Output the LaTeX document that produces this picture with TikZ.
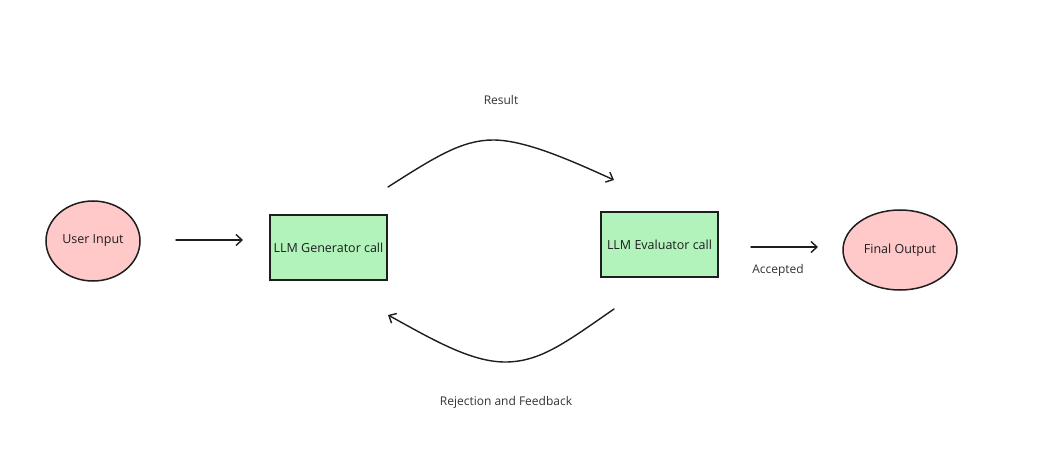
\documentclass[tikz,border=0pt]{standalone}
\usepackage{fontspec}
\setmainfont{Open Sans}
\usetikzlibrary{shapes.geometric,arrows.meta}
\definecolor{pinkfill}{HTML}{FFC9C9}
\definecolor{greenfill}{HTML}{B2F2BB}
\definecolor{ink}{HTML}{1E1E1E}
\definecolor{lbl}{HTML}{333333}
\tikzset{
  oval/.style={ellipse,draw=ink,line width=1.5pt,fill=pinkfill,inner sep=0pt,text=ink,font=\fontsize{12.5}{14}\selectfont},
  callbox/.style={rectangle,draw=ink,line width=1.5pt,fill=greenfill,inner sep=0pt,minimum width=117pt,minimum height=65pt,text=ink,font=\fontsize{12.5}{14}\selectfont},
  conn/.style={draw=ink,line width=1.4pt,line cap=round,-{Straight Barb[length=6pt,width=11pt,line width=1.4pt]}},
  lab/.style={text=lbl,font=\fontsize{12}{14}\selectfont,inner sep=0pt}
}
\begin{document}
\begin{tikzpicture}[x=1pt,y=-1pt]
\useasboundingbox[fill=white] (0,0) rectangle (1054,465);
\node[oval,minimum width=94pt,minimum height=80pt] (user) at (93,241) {User Input};
\node[callbox] (gen) at (328.5,247.5) {LLM Generator call};
\node[callbox] (eval) at (659.5,244.5) {LLM Evaluator call};
\node[oval,minimum width=114pt,minimum height=80pt] (final) at (900,250) {Final Output};
\coordinate (a1s) at (176,240);
\coordinate (a1e) at (243,240);
\coordinate (a2s) at (751,247);
\coordinate (a2e) at (818,247);
\coordinate (rs) at (388,187);
\coordinate (rm) at (493,140);
\coordinate (re) at (614,180);
\coordinate (fs) at (614,309);
\coordinate (fm) at (505,362);
\coordinate (fe) at (388,315);
\draw[conn] (a1s) -- (a1e);
\draw[conn] (a2s) -- (a2e);
\draw[conn] (rs) .. controls (435,157) and (462,140) .. (rm) .. controls (525,140) and (570,160) .. (re);
\draw[conn] (fs) .. controls (565,343) and (540,362) .. (fm) .. controls (470,362) and (430,338) .. (fe);
\node[lab] (result) at (501,100) {Result};
\node[lab] (accepted) at (778,270) {Accepted};
\node[lab] (reject) at (506,402) {Rejection and Feedback};
\end{tikzpicture}
\end{document}
